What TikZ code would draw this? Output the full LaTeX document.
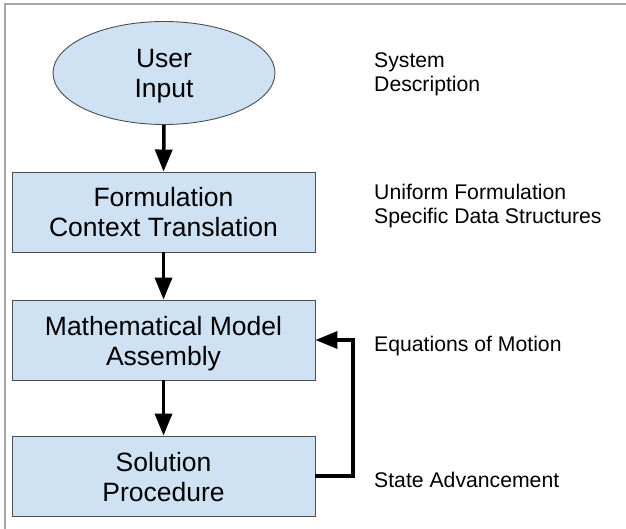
\documentclass[tikz,border=0pt]{standalone}
\usepackage{fontspec}
\setmainfont{Liberation Sans}
\usetikzlibrary{shapes.geometric,arrows.meta}
\definecolor{boxfill}{HTML}{CFE2F3}
\definecolor{boxline}{HTML}{4D4D4D}
\definecolor{frameline}{HTML}{A6A6A6}
\newcommand{\lowtext}[1]{\raisebox{-4pt}[\height][\depth]{\begin{tabular}{@{}c@{}}#1\end{tabular}}}
\begin{document}
\begin{tikzpicture}[x=1pt,y=-1pt,
  stepbox/.style={draw=boxline,line width=0.9pt,fill=boxfill,minimum width=303pt,minimum height=80pt,inner sep=0pt,align=center,font=\fontsize{26.5}{30}\selectfont},
  startnode/.style={ellipse,draw=boxline,line width=0.9pt,fill=boxfill,minimum width=222pt,minimum height=103pt,inner sep=0pt,align=center,font=\fontsize{26.5}{30}\selectfont},
  sidelabel/.style={anchor=west,align=left,inner sep=0pt,font=\fontsize{21.2}{24}\selectfont},
  flow/.style={line width=3.5pt,-{Triangle[width=17pt,length=22pt]}}]
\useasboundingbox (0,0) rectangle (626,529);
\draw[frameline,line width=1.5pt] (5,529) -- (5,4) -- (626,4);
\node[startnode] (u) at (164,73) {\lowtext{User\\Input}};
\node[stepbox] (f) at (163.5,212) {\lowtext{Formulation\\Context Translation}};
\node[stepbox] (m) at (163.5,340) {\lowtext{Mathematical Model\\Assembly}};
\node[stepbox] (s) at (163.5,476) {\lowtext{Solution\\Procedure}};
\coordinate (fb) at (353,340);
\draw[flow] (u.south) -- (f.north);
\draw[flow] (f.south) -- (m.north);
\draw[flow] (m.south) -- (s.north);
\draw[flow] (s.east) -| (fb) -- (m.east);
\node[sidelabel] (l1) at (374,74.5) {System\\Description};
\node[sidelabel] (l2) at (374,206.5) {Uniform Formulation\\Specific Data Structures};
\node[sidelabel,anchor=base west] (l3) at (374,351) {Equations of Motion};
\node[sidelabel,anchor=base west] (l4) at (374,487) {State Advancement};
\end{tikzpicture}
\end{document}
